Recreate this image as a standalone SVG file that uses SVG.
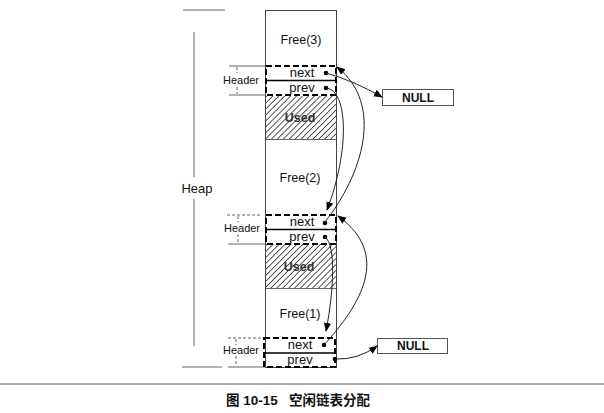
<svg xmlns="http://www.w3.org/2000/svg" width="604" height="413" viewBox="0 0 604 413">
<defs>
<pattern id="hatch" patternUnits="userSpaceOnUse" width="4.2" height="4.2" patternTransform="rotate(45)">
<line x1="0" y1="0" x2="0" y2="4.2" stroke="#000" stroke-width="1.3"/>
</pattern>
<marker id="ah" viewBox="0 0 10 10" refX="9" refY="5" markerWidth="9" markerHeight="9" markerUnits="userSpaceOnUse" orient="auto">
<path d="M0,1 L10,5 L0,9 Z" fill="#000"/>
</marker>
</defs>
<style>
text{font-family:"Liberation Sans",Arial,sans-serif;fill:#111}
.lbl{font-size:12.5px;text-anchor:middle}
.fld{font-size:13px;text-anchor:middle}
.hd{font-size:11px;text-anchor:middle}
.col{fill:none;stroke:#444;stroke-width:1}
.thin{stroke:#666;stroke-width:1;fill:none}
.dash{fill:none;stroke:#000;stroke-width:2;stroke-dasharray:6 3}
.mid{stroke:#000;stroke-width:1.6}
.dot{fill:#000}
.conn{fill:none;stroke:#222;stroke-width:1;marker-end:url(#ah)}
.null{fill:#fff;stroke:#555;stroke-width:1}
</style>
<rect width="604" height="413" fill="#fff"/>

<g id="heap-bracket">
<line class="thin" x1="183" y1="10" x2="225" y2="10"/>
<line class="thin" x1="194" y1="32" x2="194" y2="177"/>
<line class="thin" x1="194" y1="199" x2="194" y2="346"/>
<line class="thin" x1="182" y1="367" x2="222" y2="367"/>
<text class="lbl" x="197" y="193" style="font-size:13px">Heap</text>
</g>

<g id="column">
<rect class="col" x="265.5" y="10.5" width="71" height="357"/>
</g>

<g id="free3">
<text class="lbl" x="301" y="44">Free(3)</text>
</g>

<g id="used1">
<rect x="266" y="96" width="70" height="43" fill="url(#hatch)"/>
<line class="thin" x1="265" y1="139.5" x2="336" y2="139.5"/>
<text class="lbl" x="300" y="122" style="font-weight:bold;fill:#333">Used</text>
</g>

<g id="free2">
<text class="lbl" x="300" y="182">Free(2)</text>
</g>

<g id="used2">
<rect x="266" y="244" width="70" height="44" fill="url(#hatch)"/>
<line class="thin" x1="265" y1="288.5" x2="336" y2="288.5"/>
<text class="lbl" x="299" y="271" style="font-weight:bold;fill:#333">Used</text>
</g>

<g id="free1">
<text class="lbl" x="300" y="318">Free(1)</text>
</g>

<g id="header1">
<line class="thin" x1="229" y1="66" x2="265" y2="66" stroke="#999"/>
<line class="thin" x1="229" y1="95" x2="265" y2="95" stroke="#999"/>
<line class="thin" x1="237" y1="67" x2="237" y2="73" stroke-dasharray="3 2"/>
<line class="thin" x1="237" y1="87" x2="237" y2="94" stroke-dasharray="3 2"/>
<text class="hd" x="241" y="84">Header</text>
<rect class="dash" x="266" y="66" width="70" height="29"/>
<line class="mid" x1="266" y1="80.5" x2="336" y2="80.5"/>
<text class="fld" x="302" y="77">next</text>
<text class="fld" x="302" y="92">prev</text>
<circle class="dot" cx="326" cy="73" r="2.3"/>
<circle class="dot" cx="326" cy="88" r="2.3"/>
</g>

<g id="header2">
<line class="thin" x1="227" y1="215" x2="262" y2="215" stroke="#999" stroke-dasharray="3 2"/>
<line class="thin" x1="228" y1="244" x2="265" y2="244" stroke="#999"/>
<line class="thin" x1="238" y1="216" x2="238" y2="222" stroke-dasharray="3 2"/>
<line class="thin" x1="238" y1="234" x2="238" y2="243" stroke-dasharray="3 2"/>
<text class="hd" x="242" y="232">Header</text>
<rect class="dash" x="266" y="215" width="70" height="29"/>
<line class="mid" x1="266" y1="229.5" x2="336" y2="229.5"/>
<text class="fld" x="302" y="226">next</text>
<text class="fld" x="302" y="241">prev</text>
<circle class="dot" cx="325" cy="223" r="2.3"/>
<circle class="dot" cx="325" cy="237" r="2.3"/>
</g>

<g id="header3">
<line class="thin" x1="228" y1="338" x2="265" y2="338" stroke="#999" stroke-dasharray="3 2"/>
<line class="thin" x1="228" y1="367" x2="265" y2="367" stroke="#999"/>
<line class="thin" x1="236" y1="339" x2="236" y2="345" stroke-dasharray="3 2"/>
<line class="thin" x1="236" y1="356" x2="236" y2="366" stroke-dasharray="3 2"/>
<text class="hd" x="241" y="354">Header</text>
<rect class="dash" x="264" y="338" width="71" height="29"/>
<line class="mid" x1="264" y1="353" x2="335" y2="353"/>
<text class="fld" x="300" y="349">next</text>
<text class="fld" x="300" y="364">prev</text>
<circle class="dot" cx="324" cy="345" r="2.3"/>
<circle class="dot" cx="335" cy="359" r="2.3"/>
</g>

<g id="null-top">
<rect class="null" x="382.5" y="89.5" width="71" height="16"/>
<text class="lbl" x="418" y="102" style="font-weight:bold;font-size:12px">NULL</text>
</g>

<g id="null-bottom">
<rect class="null" x="377.5" y="338.5" width="70" height="15"/>
<text class="lbl" x="413" y="350" style="font-weight:bold;font-size:12px">NULL</text>
</g>

<g id="connectors">
<path class="conn" d="M326 73 Q352 80 382 97"/>
<path class="conn" d="M326 88 C348 90 350 150 327 210"/>
<path class="conn" d="M325 222 C362 175 385 105 337 67"/>
<path class="conn" d="M325 237 C336 245 334 290 326 331"/>
<path class="conn" d="M324 345 C360 305 392 255 338 216"/>
<path class="conn" d="M335 359 Q358 360 377 346"/>
</g>

<g id="caption">
<line x1="0" y1="384" x2="604" y2="384" stroke="#555" stroke-width="1"/>
<text x="298" y="405" style="font-family:'Liberation Sans','Noto Sans CJK SC',sans-serif;font-size:13.5px;font-weight:bold;text-anchor:middle" xml:space="preserve">图 10-15   空闲链表分配</text>
</g>
</svg>
